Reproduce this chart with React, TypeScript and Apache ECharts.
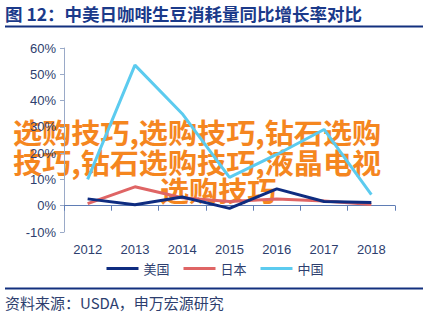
import React, { useEffect, useRef } from "react";
import * as echarts from "echarts";

const years = ["2012", "2013", "2014", "2015", "2016", "2017", "2018"];
const usa = [2.6, 0.4, 3.3, -1.0, 6.4, 1.6, 1.2];
const japan = [0.8, 7.2, 3.0, 1.6, 2.6, 1.8, 0.5];
const china = [10.0, 53.5, 35.0, 10.8, 19.5, 29.0, 4.2];
const seriesNames = ["美国", "日本", "中国"];
const titleText = "图 12：中美日咖啡生豆消耗量同比增长率对比";
const sourceText = "资料来源：USDA，申万宏源研究";
const overlayLines = ["选购技巧,选购技巧,钻石选购", "技巧,钻石选购技巧,液晶电视", "选购技巧"];

export default function App() {
  const ref = useRef<HTMLDivElement>(null);
  useEffect(() => {
    if (!ref.current) return;
    const chart = echarts.init(ref.current, null, { renderer: "svg" });
    const navy = "#1b3a8a";
    const labelColor = "#2d3e6e";
    const font = "'Liberation Sans', Arial, sans-serif";
    const cjk = "'Noto Sans CJK SC', 'Noto Sans', sans-serif";
    const overlayStyle = (text: string) => ({
      text,
      fill: "#f5861f",
      font: `bold 28px ${cjk}`,
      textVerticalAlign: "middle",
      stroke: "#ffffff",
      lineWidth: 1,
    });
    chart.setOption({
      animation: false,
      backgroundColor: "#ffffff",
      grid: { left: 64, right: 35, top: 48, bottom: 86, containLabel: false },
      legend: {
        data: seriesNames,
        left: "center",
        top: 262,
        padding: 0,
        icon: "rect",
        itemWidth: 32,
        itemHeight: 3,
        itemGap: 14,
        textStyle: { color: labelColor, fontSize: 13, fontFamily: cjk },
      },
      xAxis: {
        type: "category",
        data: years,
        boundaryGap: true,
        axisLine: { onZero: true, lineStyle: { color: "#5f7db5", width: 1 } },
        axisTick: { show: true, length: 5, lineStyle: { color: "#5f7db5" } },
        axisLabel: { color: labelColor, fontSize: 13, fontFamily: font, margin: 11 },
        splitLine: { show: false },
      },
      yAxis: {
        type: "value",
        min: -10,
        max: 60,
        interval: 10,
        axisLine: { show: true, lineStyle: { color: "#9aaac8", width: 1 } },
        axisTick: { show: true, length: 4, lineStyle: { color: "#9aaac8" } },
        axisLabel: { color: labelColor, fontSize: 13, fontFamily: font, margin: 8, formatter: "{value}%" },
        splitLine: { show: false },
      },
      series: [
        {
          name: seriesNames[0],
          type: "line",
          data: usa,
          symbol: "none",
          lineStyle: { color: "#0e2c80", width: 3 },
          itemStyle: { color: "#0e2c80" },
          z: 3,
        },
        {
          name: seriesNames[1],
          type: "line",
          data: japan,
          symbol: "none",
          lineStyle: { color: "#df6565", width: 3 },
          itemStyle: { color: "#df6565" },
          z: 2,
        },
        {
          name: seriesNames[2],
          type: "line",
          data: china,
          symbol: "none",
          lineStyle: { color: "#5ccbef", width: 3 },
          itemStyle: { color: "#5ccbef" },
          z: 1,
        },
      ],
      graphic: [
        {
          type: "text",
          left: 5,
          top: 5,
          style: {
            text: titleText,
            fill: navy,
            font: `bold 17.5px ${cjk}`,
          },
        },
        {
          type: "rect",
          shape: { x: 5, y: 25.5, width: 418, height: 2 },
          style: { fill: "#13307f" },
        },
        {
          type: "rect",
          shape: { x: 5, y: 287.5, width: 418, height: 2 },
          style: { fill: "#13307f" },
        },
        {
          type: "text",
          left: 5,
          top: 295,
          style: {
            text: sourceText,
            fill: labelColor,
            font: `15px ${cjk}`,
          },
        },
        {
          type: "group",
          z: 100,
          children: [
            { type: "text", x: 13, y: 132, scaleX: 1.04, style: overlayStyle(overlayLines[0]) },
            { type: "text", x: 13, y: 162, scaleX: 1.04, style: overlayStyle(overlayLines[1]) },
            { type: "text", x: 160, y: 190, scaleX: 1.04, style: overlayStyle(overlayLines[2]) },
          ],
        },
      ],
    });
    return () => chart.dispose();
  }, []);
  return (
    <div
      ref={ref}
      style={{ position: "fixed", left: 0, top: 0, width: 430, height: 318, background: "#fff" }}
    />
  );
}
